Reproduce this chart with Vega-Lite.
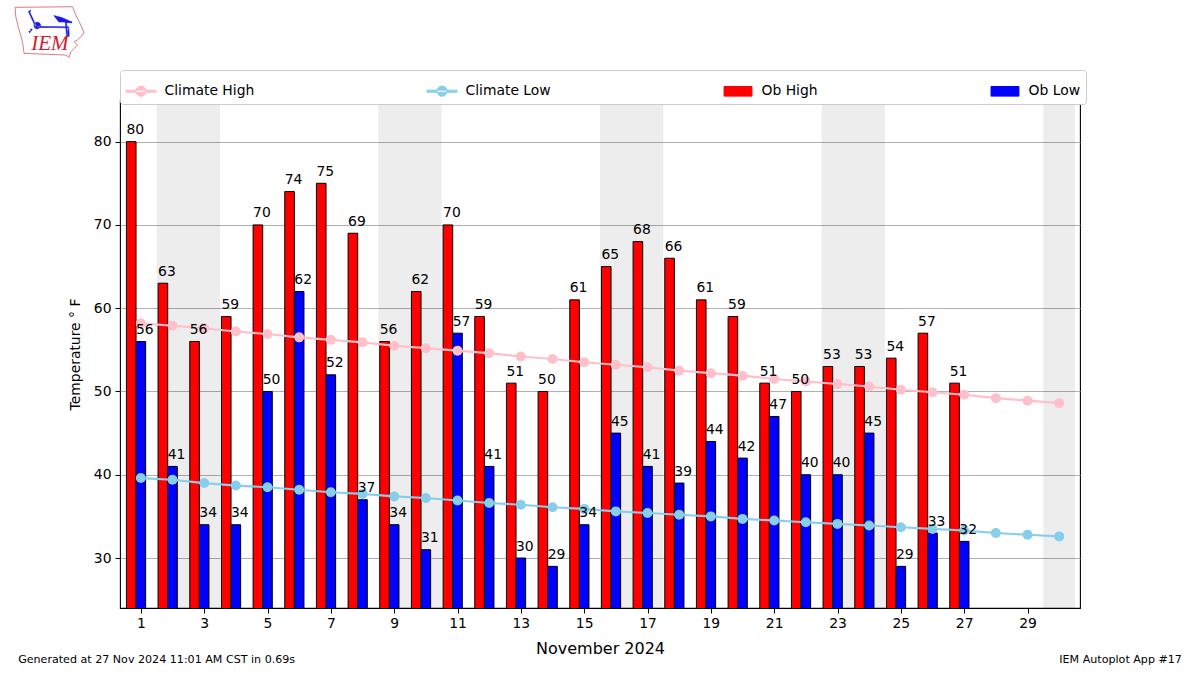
{
"$schema":"https://vega.github.io/schema/vega-lite/v6.json",
"width":960,"height":508,
"autosize":"none",
"padding":{"left":120,"top":100,"right":120,"bottom":67},
"background":"white",
"title":{"text":["[HVN] NEW HAVEN/TWEED :: Hi/Lo Temps for Nov 2024","NCEI 1991-2020 Climate Site: USW00014758"],"anchor":"start","frame":"group","font":"DejaVu Sans","fontSize":19.4,"fontWeight":"normal","color":"black","offset":43,"lineHeight":21.5},
"config":{"font":"DejaVu Sans","view":{"stroke":"black","strokeWidth":1.1}},
"datasets":{
"obs":[
{"day":1,"series":"Ob High","value":80},{"day":2,"series":"Ob High","value":63},{"day":3,"series":"Ob High","value":56},{"day":4,"series":"Ob High","value":59},{"day":5,"series":"Ob High","value":70},{"day":6,"series":"Ob High","value":74},{"day":7,"series":"Ob High","value":75},{"day":8,"series":"Ob High","value":69},{"day":9,"series":"Ob High","value":56},{"day":10,"series":"Ob High","value":62},{"day":11,"series":"Ob High","value":70},{"day":12,"series":"Ob High","value":59},{"day":13,"series":"Ob High","value":51},{"day":14,"series":"Ob High","value":50},{"day":15,"series":"Ob High","value":61},{"day":16,"series":"Ob High","value":65},{"day":17,"series":"Ob High","value":68},{"day":18,"series":"Ob High","value":66},{"day":19,"series":"Ob High","value":61},{"day":20,"series":"Ob High","value":59},{"day":21,"series":"Ob High","value":51},{"day":22,"series":"Ob High","value":50},{"day":23,"series":"Ob High","value":53},{"day":24,"series":"Ob High","value":53},{"day":25,"series":"Ob High","value":54},{"day":26,"series":"Ob High","value":57},{"day":27,"series":"Ob High","value":51},
{"day":1,"series":"Ob Low","value":56},{"day":2,"series":"Ob Low","value":41},{"day":3,"series":"Ob Low","value":34},{"day":4,"series":"Ob Low","value":34},{"day":5,"series":"Ob Low","value":50},{"day":6,"series":"Ob Low","value":62},{"day":7,"series":"Ob Low","value":52},{"day":8,"series":"Ob Low","value":37},{"day":9,"series":"Ob Low","value":34},{"day":10,"series":"Ob Low","value":31},{"day":11,"series":"Ob Low","value":57},{"day":12,"series":"Ob Low","value":41},{"day":13,"series":"Ob Low","value":30},{"day":14,"series":"Ob Low","value":29},{"day":15,"series":"Ob Low","value":34},{"day":16,"series":"Ob Low","value":45},{"day":17,"series":"Ob Low","value":41},{"day":18,"series":"Ob Low","value":39},{"day":19,"series":"Ob Low","value":44},{"day":20,"series":"Ob Low","value":42},{"day":21,"series":"Ob Low","value":47},{"day":22,"series":"Ob Low","value":40},{"day":23,"series":"Ob Low","value":40},{"day":24,"series":"Ob Low","value":45},{"day":25,"series":"Ob Low","value":29},{"day":26,"series":"Ob Low","value":33},{"day":27,"series":"Ob Low","value":32}
],
"climate":[
{"day":1,"series":"Climate High","value":58.2},{"day":2,"series":"Climate High","value":57.9},{"day":3,"series":"Climate High","value":57.6},{"day":4,"series":"Climate High","value":57.2},{"day":5,"series":"Climate High","value":56.9},{"day":6,"series":"Climate High","value":56.5},{"day":7,"series":"Climate High","value":56.2},{"day":8,"series":"Climate High","value":55.9},{"day":9,"series":"Climate High","value":55.5},{"day":10,"series":"Climate High","value":55.2},{"day":11,"series":"Climate High","value":54.9},{"day":12,"series":"Climate High","value":54.6},{"day":13,"series":"Climate High","value":54.2},{"day":14,"series":"Climate High","value":53.9},{"day":15,"series":"Climate High","value":53.5},{"day":16,"series":"Climate High","value":53.2},{"day":17,"series":"Climate High","value":52.9},{"day":18,"series":"Climate High","value":52.5},{"day":19,"series":"Climate High","value":52.2},{"day":20,"series":"Climate High","value":51.9},{"day":21,"series":"Climate High","value":51.5},{"day":22,"series":"Climate High","value":51.2},{"day":23,"series":"Climate High","value":50.9},{"day":24,"series":"Climate High","value":50.6},{"day":25,"series":"Climate High","value":50.2},{"day":26,"series":"Climate High","value":49.9},{"day":27,"series":"Climate High","value":49.6},{"day":28,"series":"Climate High","value":49.2},{"day":29,"series":"Climate High","value":48.9},{"day":30,"series":"Climate High","value":48.6},
{"day":1,"series":"Climate Low","value":39.6},{"day":2,"series":"Climate Low","value":39.4},{"day":3,"series":"Climate Low","value":39.0},{"day":4,"series":"Climate Low","value":38.7},{"day":5,"series":"Climate Low","value":38.5},{"day":6,"series":"Climate Low","value":38.2},{"day":7,"series":"Climate Low","value":37.9},{"day":8,"series":"Climate Low","value":37.7},{"day":9,"series":"Climate Low","value":37.4},{"day":10,"series":"Climate Low","value":37.2},{"day":11,"series":"Climate Low","value":36.9},{"day":12,"series":"Climate Low","value":36.6},{"day":13,"series":"Climate Low","value":36.4},{"day":14,"series":"Climate Low","value":36.1},{"day":15,"series":"Climate Low","value":35.9},{"day":16,"series":"Climate Low","value":35.6},{"day":17,"series":"Climate Low","value":35.4},{"day":18,"series":"Climate Low","value":35.2},{"day":19,"series":"Climate Low","value":35.0},{"day":20,"series":"Climate Low","value":34.7},{"day":21,"series":"Climate Low","value":34.5},{"day":22,"series":"Climate Low","value":34.3},{"day":23,"series":"Climate Low","value":34.1},{"day":24,"series":"Climate Low","value":33.9},{"day":25,"series":"Climate Low","value":33.7},{"day":26,"series":"Climate Low","value":33.5},{"day":27,"series":"Climate Low","value":33.3},{"day":28,"series":"Climate Low","value":33.0},{"day":29,"series":"Climate Low","value":32.8},{"day":30,"series":"Climate Low","value":32.6}
],
"weekends":[{"start":1.5,"end":3.5},{"start":8.5,"end":10.5},{"start":15.5,"end":17.5},{"start":22.5,"end":24.5},{"start":29.5,"end":30.5}]
},
"layer":[
{"data":{"name":"weekends"},"mark":{"type":"rect","fill":"black","opacity":0.07},
 "encoding":{"x":{"field":"start","type":"quantitative","scale":{"domain":[0.5,30.5],"nice":false,"zero":false},
   "axis":{"values":[1,2,3,4,5,6,7,8,9,10,11,12,13,14,15,16,17,18,19,20,21,22,23,24,25,26,27,28,29,30],"format":"d","title":"November 2024","titleFontSize":16,"titleFontWeight":"normal","titleColor":"black","titlePadding":11,"labelFontSize":13.9,"labelColor":"black","tickColor":"black","tickSize":5,"tickWidth":1,"domain":false,"grid":false,"labelPadding":3,"labelFlush":false,"labelOverlap":false}},
  "x2":{"field":"end"}}},
{"data":{"name":"obs"},"transform":[{"filter":"datum.series==='Ob High'"}],"mark":{"type":"bar","width":9.6,"xOffset":-9.6,"stroke":"black","strokeWidth":1,"clip":true},
 "encoding":{"x":{"field":"day","type":"quantitative"},
  "y":{"field":"value","type":"quantitative","scale":{"domain":[24,85],"nice":false,"zero":false},
   "axis":{"values":[30,40,50,60,70,80],"title":"Temperature ° F","titleFontSize":13.9,"titleFontWeight":"normal","titleColor":"black","titlePadding":11,"labelFontSize":13.9,"labelColor":"black","tickColor":"black","tickSize":5,"tickWidth":1,"domain":false,"grid":true,"gridColor":"#b0b0b0","gridWidth":1,"labelPadding":4}},
  "color":{"field":"series","type":"nominal","scale":{"domain":["Climate High","Climate Low","Ob High","Ob Low"],"range":["#ffc0cb","#87ceeb","#ff0000","#0000ff"]},
   "legend":{"title":null,"orient":"none","legendX":0,"legendY":-30,"direction":"horizontal","columns":4,"gridAlign":"each","columnPadding":170,"symbolSize":900,"labelFontSize":13.9,"labelColor":"black","labelOffset":8,"fillColor":"white","strokeColor":"#cccccc","cornerRadius":3,"padding":5.5,"symbolOpacity":1,
    "encoding":{"symbols":{"shape":{"value":{"signal":"indexof(datum.value,'Climate')===0 ? 'M-1,-0.07H1V0.07H-1ZM-0.34,0A0.34,0.34 0 1,0 0.34,0A0.34,0.34 0 1,0 -0.34,0Z' : 'M-0.93,-0.32H0.93V0.32H-0.93Z'"}},"stroke":{"value":{"signal":"indexof(datum.value,'Climate')===0 ? 'transparent' : 'black'"}},"strokeWidth":{"value":1}}}}}}},
{"data":{"name":"obs"},"transform":[{"filter":"datum.series==='Ob Low'"}],"mark":{"type":"bar","width":9.6,"stroke":"black","strokeWidth":1,"clip":true},
 "encoding":{"x":{"field":"day","type":"quantitative"},"y":{"field":"value","type":"quantitative"},"color":{"field":"series","type":"nominal"}}},
{"data":{"name":"climate"},"mark":{"type":"line","strokeWidth":2.1},
 "encoding":{"x":{"field":"day","type":"quantitative"},"y":{"field":"value","type":"quantitative"},"color":{"field":"series","type":"nominal"},"detail":{"field":"series"}}},
{"data":{"name":"climate"},"mark":{"type":"point","filled":true,"size":100,"opacity":1},
 "encoding":{"x":{"field":"day","type":"quantitative"},"y":{"field":"value","type":"quantitative"},"color":{"field":"series","type":"nominal"}}},
{"data":{"name":"obs"},"transform":[{"filter":"datum.series==='Ob High'"}],"mark":{"type":"text","align":"left","baseline":"alphabetic","dx":-14.4,"dy":-7.5,"fontSize":13.9,"color":"black"},
 "encoding":{"x":{"field":"day","type":"quantitative"},"y":{"field":"value","type":"quantitative"},"text":{"field":"value","type":"quantitative"}}},
{"data":{"name":"obs"},"transform":[{"filter":"datum.series==='Ob Low'"}],"mark":{"type":"text","align":"left","baseline":"alphabetic","dx":-4.8,"dy":-7.5,"fontSize":13.9,"color":"black"},
 "encoding":{"x":{"field":"day","type":"quantitative"},"y":{"field":"value","type":"quantitative"},"text":{"field":"value","type":"quantitative"}}},
{"data":{"values":[{"note":"Generated at 27 Nov 2024 11:01 AM CST in 0.69s"}]},"mark":{"type":"text","align":"left","baseline":"middle","fontSize":11.1,"color":"black","clip":false},
 "encoding":{"x":{"datum":-2.875},"y":{"datum":17.8},"text":{"field":"note"}}},
{"data":{"values":[{"note":"IEM Autoplot App #17"}]},"mark":{"type":"text","align":"right","baseline":"middle","fontSize":11.1,"color":"black","clip":false},
 "encoding":{"x":{"datum":33.875},"y":{"datum":17.8},"text":{"field":"note"}}},
{"data":{"values":[{"logo":"outline"}]},"mark":{"type":"point","filled":false,"stroke":"#e07a80","strokeWidth":1,"opacity":1,"size":4,"shape":"M-34.7,-24.7L22.7,-25.3L26,-17L31,-7L34.3,1L27.7,8L24.3,9.7L27.7,13L21,19.7L19.3,25.3L16,23L-25.7,21.3L-27.3,9.7L-30.7,-2L-34,-15.3Z"},
 "encoding":{"x":{"datum":-1.875},"y":{"datum":93.16}}},
{"data":{"values":[{"logo":"glyph"}]},"mark":{"type":"point","filled":true,"fill":"#1a1ae0","stroke":"#1a1ae0","strokeWidth":0.5,"opacity":1,"size":4,"shape":"M-12.3,-5.7L19,-5.2L19,-4.2L-12.3,-4.7ZM-21.3,-20.3L-20.3,-20.7L-13.5,-6L-14.5,-5.5ZM-21.3,-20.3L-19.5,-22L-19,-21L-20.5,-19.5ZM-15.5,-8A3,3 0 1,0 -9.5,-5A3,3 0 1,0 -15.5,-8ZM4,-16.5L12,-14.5L20,-11L22,-9L17,-10L9,-10ZM15.5,-10.5L22,-10.5L22,-9.5L15.5,-9.5ZM15.5,-10L16.7,-10L18,4.5L16.8,4.5ZM18,-1L19,-4L19.5,3L18.5,5ZM-19.5,-3L-17.5,-3L-18.5,-1ZM-21,-1L-19,-1L-20,1Z"},
 "encoding":{"x":{"datum":-1.875},"y":{"datum":93.16}}},
{"data":{"values":[{"logo":"IEM"}]},"mark":{"type":"text","font":"Liberation Serif","fontStyle":"italic","fontSize":21,"color":"#d0202a","align":"center","baseline":"alphabetic","clip":false},
 "encoding":{"x":{"datum":-1.875},"y":{"datum":91},"text":{"field":"logo"}}}
],
"resolve":{"legend":{"color":"shared"}}
}
